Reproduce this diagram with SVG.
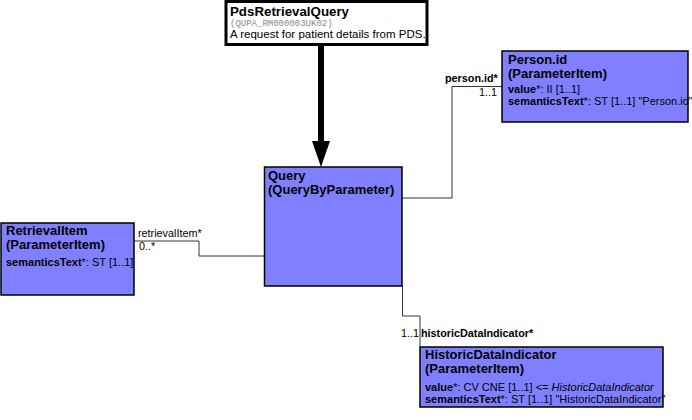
<svg xmlns="http://www.w3.org/2000/svg" width="692" height="420" viewBox="0 0 692 420">
<style>
text { font-family: "Liberation Sans", Arial, sans-serif; fill: #000; }
.cls { fill: #8080ff; stroke: #000; stroke-width: 1.5; }
.title { font-size: 13px; font-weight: bold; }
.attr { font-size: 11px; }
.b { font-weight: bold; }
.lbl { font-size: 10.8px; }
.conn { fill: none; stroke: #333; stroke-width: 1; }
.code { font-family: "Liberation Mono", "Courier New", monospace; font-size: 9px; fill: #888; }
</style>
<rect width="692" height="420" fill="#fff"/>
<g id="connectors">
  <g id="entry-arrow">
    <rect x="318" y="45" width="6" height="97" fill="#000"/>
    <polygon points="312,141 330,141 321,167" fill="#000"/>
  </g>
  <polyline class="conn" points="402,198 452,198 452,86.5 502,86.5"/>
  <text class="lbl b" x="445" y="82">person.id*</text>
  <text class="lbl" x="497" y="96" text-anchor="end">1..1</text>
  <polyline class="conn" points="134,241 199,241 199,256 264,256"/>
  <text class="lbl" x="138" y="237">retrievalItem*</text>
  <text class="lbl" x="139" y="250">0..*</text>
  <polyline class="conn" points="402.5,286 402.5,316 420,316 420,347"/>
  <text class="lbl" x="419" y="337" text-anchor="end">1..1</text>
  <text class="lbl b" x="421" y="337">historicDataIndicator*</text>
</g>
<g id="PdsRetrievalQuery">
  <rect x="226" y="1.5" width="201" height="43" fill="#fff" stroke="#000" stroke-width="3"/>
  <text x="230" y="16" font-size="13.3px" font-weight="bold">PdsRetrievalQuery</text>
  <text class="code" x="230" y="26">(QUPA_RM000003UK02)</text>
  <text x="230" y="38" font-size="11.5px">A request for patient details from PDS.</text>
</g>
<g id="Query">
  <rect class="cls" x="264.5" y="167" width="137.5" height="119"/>
  <text class="title" x="268" y="180">Query</text>
  <text class="title" x="268" y="193.5">(QueryByParameter)</text>
</g>
<g id="PersonId">
  <rect class="cls" x="502" y="51" width="186" height="71"/>
  <text class="title" x="508" y="64">Person.id</text>
  <text class="title" x="508" y="77.5">(ParameterItem)</text>
  <text class="attr" x="508" y="93"><tspan class="b">value</tspan>*: II [1..1]</text>
  <text class="attr" x="508" y="105"><tspan class="b">semanticsText</tspan>*: ST [1..1] "Person.id"</text>
</g>
<g id="RetrievalItem">
  <rect class="cls" x="1" y="223" width="133" height="72"/>
  <text class="title" x="6" y="235">RetrievalItem</text>
  <text class="title" x="6" y="248.5">(ParameterItem)</text>
  <text class="attr" x="6" y="266"><tspan class="b">semanticsText</tspan>*: ST [1..1]</text>
</g>
<g id="HistoricDataIndicator">
  <rect class="cls" x="420" y="347" width="243" height="60"/>
  <text class="title" x="425" y="359">HistoricDataIndicator</text>
  <text class="title" x="425" y="372.5">(ParameterItem)</text>
  <text class="attr" x="425" y="391"><tspan class="b">value</tspan>*: CV CNE [1..1] &lt;= <tspan font-style="italic">HistoricDataIndicator</tspan></text>
  <text class="attr" x="425" y="403"><tspan class="b">semanticsText</tspan>*: ST [1..1] "HistoricDataIndicator"</text>
</g>
</svg>
